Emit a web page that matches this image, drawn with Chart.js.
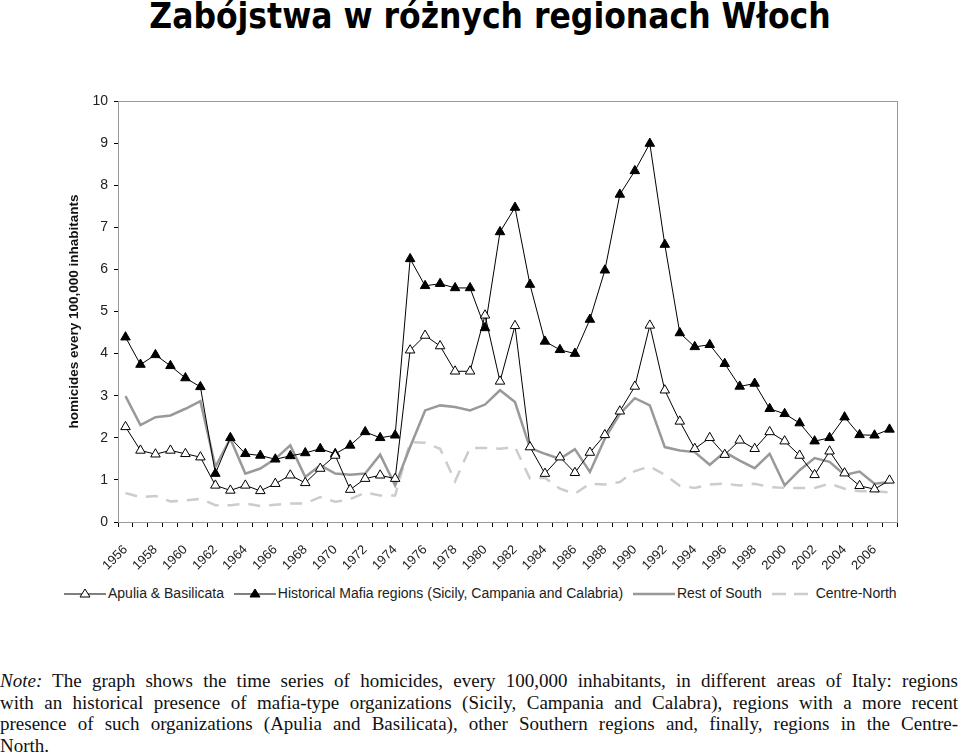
<!DOCTYPE html>
<html>
<head>
<meta charset="utf-8">
<script src="https://cdn.jsdelivr.net/npm/chart.js@4.4.0/dist/chart.umd.min.js"></script>
<style>
  body { margin: 0; background: #fff; width: 960px; height: 754px; position: relative; overflow: hidden; }
  #title { position: absolute; left: 0; width: 980px; top: -4px; text-align: center;
           font: bold 35px "DejaVu Sans Condensed", "DejaVu Sans", sans-serif; color: #000; }
  #wrap { position: absolute; left: 0; top: 0; width: 960px; height: 580px; }
  #legend { position: absolute; top: 584px; left: 64px; font: 14px "Liberation Sans", Arial, sans-serif; color: #222; white-space: nowrap; }
  #legend span { display: inline-block; vertical-align: middle; }
  #legend svg { vertical-align: middle; margin-right: 2px; }
  #note { position: absolute; left: 0; top: 670px; width: 958px; font: 19px "Liberation Serif", "Times New Roman", serif; color: #111; line-height: 21.5px; white-space: nowrap; }
  #note div { text-align: justify; text-align-last: justify; }
  #note div.last { text-align-last: left; }
</style>
</head>
<body>
<div id="title">Zabójstwa w różnych regionach Włoch</div>
<div id="wrap"><canvas id="chart"></canvas></div>
<div id="legend">
  <svg width="42" height="12"><line x1="0" y1="7" x2="42" y2="7" stroke="#000" stroke-width="1"/><polygon points="21,2 26,10 16,10" fill="#fff" stroke="#000"/></svg><span>Apulia &amp; Basilicata</span>
  <svg width="42" height="12" style="margin-left:6px"><line x1="0" y1="7" x2="42" y2="7" stroke="#000" stroke-width="1"/><polygon points="21,2 26,10 16,10" fill="#000" stroke="#000"/></svg><span>Historical Mafia regions (Sicily, Campania and Calabria)</span>
  <svg width="42" height="12" style="margin-left:6px"><line x1="0" y1="7" x2="42" y2="7" stroke="#999" stroke-width="2.5"/></svg><span>Rest of South</span>
  <svg width="42" height="12" style="margin-left:6px"><line x1="0" y1="7" x2="42" y2="7" stroke="#ccc" stroke-width="2.5" stroke-dasharray="14 8"/></svg><span>Centre-North</span>
</div>
<div id="note">
  <div><i>Note:</i> The graph shows the time series of homicides, every 100,000 inhabitants, in different areas of Italy: regions</div>
  <div>with an historical presence of mafia-type organizations (Sicily, Campania and Calabra), regions with a more recent</div>
  <div>presence of such organizations (Apulia and Basilicata), other Southern regions and, finally, regions in the Centre-</div>
  <div class="last">North.</div>
</div>
<script>
// years 1956 - 2007
var years = [];
for (var y = 1956; y <= 2007; y++) years.push(String(y));

var apulia = [2.26, 1.70, 1.61, 1.70, 1.62, 1.54, 0.87, 0.75, 0.87, 0.74, 0.91, 1.11, 0.93, 1.27, 1.58, 0.77,
  1.03, 1.11, 1.03, 4.08, 4.43, 4.18, 3.58, 3.58, 4.91, 3.34, 4.66, 1.78, 1.15, 1.54, 1.17, 1.65, 2.07, 2.63, 3.22,
  4.67, 3.13, 2.39, 1.74, 2.00, 1.60, 1.94, 1.74, 2.14, 1.92, 1.58, 1.12, 1.68, 1.16, 0.86, 0.78, 0.99];

var mafia = [4.39, 3.74, 3.97, 3.71, 3.42, 3.21, 1.15, 2.00, 1.62, 1.58, 1.49, 1.57, 1.64, 1.74, 1.62, 1.82,
  2.14, 2.00, 2.06, 6.25, 5.61, 5.66, 5.56, 5.56, 4.61, 6.89, 7.47, 5.64, 4.29, 4.09, 4.00, 4.81, 5.98, 7.78, 8.34,
  8.99, 6.59, 4.49, 4.16, 4.21, 3.76, 3.22, 3.29, 2.69, 2.57, 2.35, 1.92, 2.00, 2.49, 2.07, 2.06, 2.20];

var restSouth = [2.99, 2.30, 2.49, 2.53, 2.69, 2.87, 1.31, 1.98, 1.15, 1.27, 1.50, 1.82, 1.07, 1.35, 1.15, 1.12,
  1.15, 1.60, 0.87, 1.78, 2.65, 2.77, 2.73, 2.65, 2.79, 3.13, 2.85, 1.76, 1.62, 1.50, 1.73, 1.19, 1.98, 2.57, 2.94,
  2.77, 1.78, 1.70, 1.66, 1.36, 1.66, 1.46, 1.28, 1.62, 0.87, 1.23, 1.52, 1.43, 1.12, 1.20, 0.91, 0.95];

var centreNorth = [0.69, 0.59, 0.62, 0.49, 0.51, 0.55, 0.40, 0.40, 0.44, 0.38, 0.41, 0.44, 0.44, 0.59, 0.48, 0.54,
  0.70, 0.63, 0.63, 1.90, 1.88, 1.74, 0.97, 1.76, 1.76, 1.74, 1.78, 1.03, 1.05, 0.79, 0.67, 0.91, 0.89, 0.95, 1.21,
  1.32, 1.12, 0.86, 0.81, 0.89, 0.91, 0.87, 0.91, 0.83, 0.81, 0.81, 0.81, 0.91, 0.79, 0.73, 0.73, 0.70];

// grey frame round the plot area
const framePlugin = {
  id: 'frame',
  beforeDatasetsDraw(chart) {
    const a = chart.chartArea, c = chart.ctx;
    c.save();
    c.strokeStyle = '#999';
    c.lineWidth = 1;
    c.strokeRect(a.left + 0.5, a.top + 0.5, a.right - a.left, a.bottom - a.top);
    c.restore();
  }
};

const ctx = document.getElementById('chart');
const chart = new Chart(ctx, {
  type: 'line',
  data: {
    labels: years,
    datasets: [
      { label: 'Apulia & Basilicata', data: apulia, borderColor: '#000', borderWidth: 1,
        pointStyle: 'triangle', pointRadius: 5.5, pointBackgroundColor: '#fff', pointBorderColor: '#000', pointBorderWidth: 1 },
      { label: 'Historical Mafia regions (Sicily, Campania and Calabria)', data: mafia, borderColor: '#000', borderWidth: 1,
        pointStyle: 'triangle', pointRadius: 5.5, pointBackgroundColor: '#000', pointBorderColor: '#000', pointBorderWidth: 1 },
      { label: 'Rest of South', data: restSouth, borderColor: '#999', borderWidth: 2.5, pointRadius: 0 },
      { label: 'Centre-North', data: centreNorth, borderColor: '#ccc', borderWidth: 2.5, borderDash: [12, 9], pointRadius: 0 }
    ]
  },
  options: {
    responsive: true,
    maintainAspectRatio: false,
    animation: false,
    layout: { padding: { left: 62, right: 63, top: 101, bottom: 0 } },
    plugins: { legend: { display: false }, tooltip: { enabled: false } },
    scales: {
      x: {
        offset: true,
        grid: { offset: true, drawOnChartArea: false, tickLength: 5, color: '#000' },
        border: { color: '#000' },
        ticks: {
          autoSkip: false, maxRotation: 45, minRotation: 45, padding: 15,
          color: '#222', font: { family: 'Liberation Sans', size: 13 },
          callback: function(v, i) { return i % 2 === 0 ? years[i] : ''; }
        },
        afterFit: function(s) { s.height = 58; }
      },
      y: {
        min: 0, max: 10,
        ticks: { stepSize: 1, color: '#222', padding: 6, font: { family: 'Liberation Sans', size: 14 } },
        grid: { drawOnChartArea: false, tickLength: 4, color: '#000' },
        border: { color: '#000' },
        title: { display: true, text: 'homicides every 100,000 inhabitants', color: '#111',
                 font: { family: 'Liberation Sans', size: 13.5, weight: 'bold' } },
        afterFit: function(s) { s.width = 56; }
      }
    }
  },
  plugins: [framePlugin]
});
</script>
</body>
</html>
